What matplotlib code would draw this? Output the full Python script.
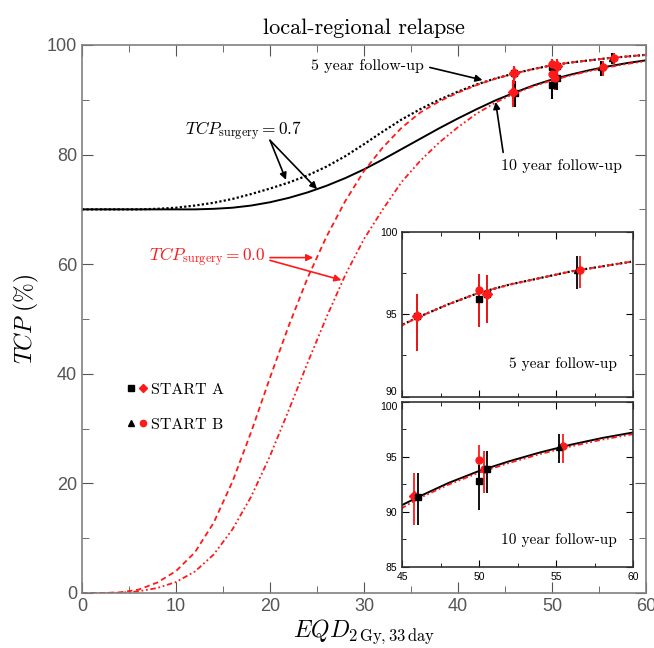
import matplotlib.pyplot as plt
from matplotlib.lines import Line2D
from matplotlib.legend_handler import HandlerTuple

plt.rcParams['mathtext.fontset'] = 'cm'
plt.rcParams['axes.unicode_minus'] = False

SERIF = 'cmr10'
SANS = 'Liberation Sans'

# model curves (TCP in %, dose EQD in Gy)
dose = [0, 2, 4, 6, 8, 10, 12, 14, 16, 18, 20, 22, 24, 26, 28, 30,
        32, 34, 36, 38, 40, 42, 44, 46, 48, 50, 52, 54, 56, 58, 60]
tcp_5y_s07 = [70, 70, 70, 70.0, 70.1, 70.3, 70.7, 71.2, 71.9, 72.8, 73.8, 74.9, 76.2, 77.8, 79.7, 81.9,
              84.2, 86.4, 88.3, 90.0, 91.5, 92.8, 93.9, 94.8, 95.6, 96.3, 96.8, 97.2, 97.6, 97.9, 98.2]
tcp_10y_s07 = [70, 70, 70, 70, 70, 70, 70, 70.1, 70.3, 70.7, 71.3, 72.1, 73.1, 74.3, 75.7, 77.3,
               79.1, 81.0, 82.9, 84.8, 86.6, 88.3, 89.9, 91.3, 92.6, 93.7, 94.6, 95.4, 96.1, 96.7, 97.2]
tcp_5y_s00 = [0, 0.0, 0.1, 0.6, 1.9, 4.0, 7.4, 12.8, 20.3, 29.4, 39.3, 48.8, 57.5, 65.0, 71.5, 77.0,
              81.3, 84.9, 87.7, 89.7, 91.3, 92.7, 93.85, 94.8, 95.6, 96.3, 96.8, 97.2, 97.6, 97.9, 98.2]
tcp_10y_s00 = [0, 0, 0.05, 0.3, 0.9, 2.0, 3.9, 7.0, 11.6, 17.6, 25.0, 33.4, 42.0, 50.3, 58.0, 64.6,
               70.0, 75.0, 78.9, 82.2, 85.0, 87.5, 89.5, 91.15, 92.45, 93.55, 94.45, 95.25, 95.95, 96.55, 97.05]

# clinical data points, 5 year follow-up
y5_blk_x = [46.0, 50.0, 50.5, 56.35]
y5_blk_y = [94.9, 95.95, 96.2, 97.65]
y5_blk_lo = [2.1, 1.7, 1.75, 1.1]
y5_blk_hi = [1.3, 1.5, 1.15, 0.85]
y5_blk_mk = ['s', 's', 's', '^']
y5_red_x = [45.95, 50.0, 50.5, 56.55]
y5_red_y = [94.9, 96.45, 96.2, 97.7]
y5_red_lo = [2.1, 2.2, 1.75, 1.1]
y5_red_hi = [1.3, 1.0, 1.15, 0.8]
y5_red_mk = ['D', 'o', 'D', 'o']

# clinical data points, 10 year follow-up
y10_blk_x = [46.05, 50.0, 50.55, 55.2]
y10_blk_y = [91.3, 92.75, 93.9, 95.9]
y10_blk_lo = [2.55, 2.6, 2.2, 1.5]
y10_blk_hi = [2.2, 1.5, 1.65, 1.15]
y10_blk_mk = ['s', 's', 's', '^']
y10_red_x = [45.8, 50.0, 50.3, 55.45]
y10_red_y = [91.4, 94.7, 93.9, 96.0]
y10_red_lo = [2.65, 2.0, 2.2, 1.6]
y10_red_hi = [2.15, 1.4, 1.65, 1.1]
y10_red_mk = ['D', 'o', 'o', 'o']

RED = '#ff1a1a'


def draw_points(ax, xs, ys, lo, hi, mks, color, ms, lw):
    for x, y, l, h, m in zip(xs, ys, lo, hi, mks):
        ax.errorbar([x], [y], yerr=[[l], [h]], fmt=m, color=color, ms=ms,
                    elinewidth=lw, capsize=0, zorder=4)


def style_ticks(ax, color, size, length):
    ax.tick_params(which='both', direction='in', top=True, right=True,
                   color=color, labelcolor=color, labelsize=size)
    ax.tick_params(which='major', length=length)
    ax.tick_params(which='minor', length=length * 0.6)
    for lab in ax.get_xticklabels() + ax.get_yticklabels():
        lab.set_family(SANS)


fig = plt.figure(figsize=(6.54, 6.48), dpi=100)
ax = fig.add_axes([0.1254, 0.0849, 0.8624, 0.8457])

ax.plot(dose, tcp_5y_s07, color='k', ls=(0, (1, 1)), lw=1.6)
ax.plot(dose, tcp_10y_s07, color='k', ls='-', lw=1.4)
ax.plot(dose, tcp_5y_s00, color=RED, ls=(0, (3, 2)), lw=1.3)
ax.plot(dose, tcp_10y_s00, color=RED, ls=(0, (3, 1.5, 1, 1.5, 1, 1.5)), lw=1.3)

draw_points(ax, y5_blk_x, y5_blk_y, y5_blk_lo, y5_blk_hi, y5_blk_mk, 'k', 4, 1.5)
draw_points(ax, y10_blk_x, y10_blk_y, y10_blk_lo, y10_blk_hi, y10_blk_mk, 'k', 4, 1.5)
draw_points(ax, y5_red_x, y5_red_y, y5_red_lo, y5_red_hi, y5_red_mk, RED, 5, 1.5)
draw_points(ax, y10_red_x, y10_red_y, y10_red_lo, y10_red_hi, y10_red_mk, RED, 5, 1.5)

ax.set_xlim(0, 60)
ax.set_ylim(0, 100)
ax.set_xticks(range(0, 61, 10))
ax.set_xticks(range(5, 60, 10), minor=True)
ax.set_yticks(range(0, 101, 20))
ax.set_yticks(range(10, 100, 20), minor=True)
for sp in ax.spines.values():
    sp.set_color('#808080')
    sp.set_linewidth(1.2)
style_ticks(ax, '#555555', 13, 8)

ax.set_title('local-regional relapse', family=SERIF, fontsize=16, pad=8)
ax.set_ylabel(r'$TCP\ (\%)$', fontsize=17, labelpad=4)
ax.set_xlabel(r'$EQD_{2\,\mathrm{Gy},33\,\mathrm{day}}$', fontsize=17, labelpad=2)

arw_k = dict(arrowstyle='-|>', color='k', lw=1.2, mutation_scale=10, shrinkA=0, shrinkB=0)
arw_r = dict(arrowstyle='-|>', color=RED, lw=1.2, mutation_scale=10, shrinkA=0, shrinkB=0)

ax.text(30.4, 96.2, '5 year follow-up', family=SERIF, fontsize=11.5, ha='center', va='center')
ax.annotate('', xy=(42.6, 93.6), xytext=(37.0, 95.9), arrowprops=arw_k)
ax.text(51.0, 78.0, '10 year follow-up', family=SERIF, fontsize=11.5, ha='center', va='center')
ax.annotate('', xy=(44.0, 89.6), xytext=(44.8, 80.4), arrowprops=arw_k)

ax.text(17.2, 84.3, r'$TCP_{\mathrm{surgery}} = 0.7$', fontsize=12.5, ha='center', va='center')
ax.annotate('', xy=(21.7, 75.4), xytext=(20.0, 82.6), arrowprops=arw_k)
ax.annotate('', xy=(25.0, 73.7), xytext=(20.0, 82.6), arrowprops=arw_k)

ax.text(13.3, 61.3, r'$TCP_{\mathrm{surgery}} = 0.0$', fontsize=12.5, ha='center', va='center', color=RED)
ax.annotate('', xy=(24.6, 61.2), xytext=(20.0, 61.2), arrowprops=arw_r)
ax.annotate('', xy=(27.6, 57.1), xytext=(20.0, 60.7), arrowprops=arw_r)

h_a = (Line2D([], [], marker='s', color='k', ls='none', ms=4),
       Line2D([], [], marker='D', color=RED, ls='none', ms=4))
h_b = (Line2D([], [], marker='^', color='k', ls='none', ms=4),
       Line2D([], [], marker='o', color=RED, ls='none', ms=4.5))
leg = ax.legend([h_a, h_b], ['START A', 'START B'], loc='upper left',
                bbox_to_anchor=(0.055, 0.41), frameon=False, handlelength=1.2,
                handletextpad=0.3, labelspacing=1.3,
                handler_map={tuple: HandlerTuple(ndivide=None, pad=0.4)},
                prop={'family': SERIF, 'size': 11.5})

# insets
ins5 = fig.add_axes([0.6147, 0.3878, 0.3532, 0.2546])
ins10 = fig.add_axes([0.6147, 0.1255, 0.3532, 0.2546])

ins5.plot(dose, tcp_5y_s07, color='k', ls=(0, (1, 1)), lw=1.6)
ins5.plot(dose, tcp_5y_s00, color=RED, ls=(0, (3, 2)), lw=1.3)
draw_points(ins5, y5_blk_x, y5_blk_y, y5_blk_lo, y5_blk_hi, y5_blk_mk, 'k', 4, 1.3)
draw_points(ins5, y5_red_x, y5_red_y, y5_red_lo, y5_red_hi, y5_red_mk, RED, 5, 1.3)
ins5.set_ylim(90, 100)
ins5.set_yticks([90, 95, 100])
ins5.set_yticks([92.5, 97.5], minor=True)
ins5.text(0.93, 0.2, '5 year follow-up', transform=ins5.transAxes, family=SERIF,
          fontsize=11, ha='right', va='center')

ins10.plot(dose, tcp_10y_s07, color='k', ls='-', lw=1.4)
ins10.plot(dose, tcp_10y_s00, color=RED, ls=(0, (3, 1.5, 1, 1.5, 1, 1.5)), lw=1.3)
draw_points(ins10, y10_red_x, y10_red_y, y10_red_lo, y10_red_hi, y10_red_mk, RED, 5, 1.3)
draw_points(ins10, y10_blk_x, y10_blk_y, y10_blk_lo, y10_blk_hi, y10_blk_mk, 'k', 4, 1.3)
ins10.set_ylim(85, 100)
ins10.set_yticks([85, 90, 95, 100])
ins10.set_yticks([87.5, 92.5, 97.5], minor=True)
ins10.text(0.93, 0.16, '10 year follow-up', transform=ins10.transAxes, family=SERIF,
           fontsize=11, ha='right', va='center')

for a in (ins5, ins10):
    a.set_xlim(45, 60)
    a.set_xticks([45, 50, 55, 60])
    a.set_xticks([47.5, 52.5, 57.5], minor=True)
    for sp in a.spines.values():
        sp.set_color('#333333')
        sp.set_linewidth(1.2)
    style_ticks(a, 'k', 7.5, 5)
ins5.set_xticklabels([])

# keep the stacked "90" / "100" inset labels apart
ins5.get_yticklabels()[0].set_va('bottom')
ins10.get_yticklabels()[-1].set_va('top')

fig.savefig('out.png', dpi=100)
